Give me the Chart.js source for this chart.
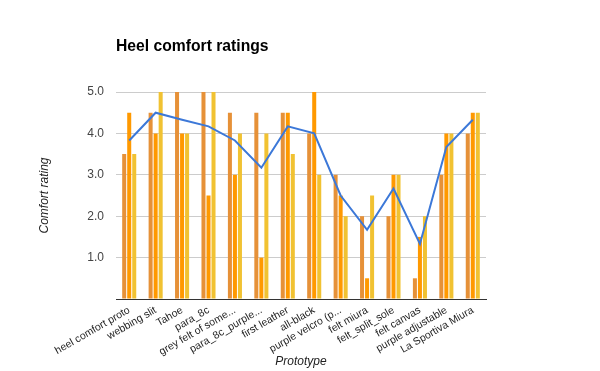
<!DOCTYPE html>
<html>
<head>
<meta charset="UTF-8">
<title>Heel comfort ratings</title>
<style type="text/css">
body {
	margin: 0;
	background: #fff;
}
</style>
</head>
<body>
	<canvas id="myChart" width="600" height="371"></canvas>

<script src="https://cdn.jsdelivr.net/npm/chart.js"></script>
<script>
	// 프로토타입 (x축)
	let prototypes = ['heel comfort proto', 'webbing slit', 'Tahoe', 'para_8c', 'grey felt of some...', 'para_8c_purple...',
		'first leather', 'all-black', 'purple velcro (p...', 'felt miura', 'felt_split_sole', 'felt canvas',
		'purple adjustable', 'La Sportiva Miura'];
	// 평가 값
	let rating1 = [3.5, 4.5, 5.0, 5.0, 4.5, 4.5, 4.5, 4.0, 3.0, 2.0, 2.0, 0.5, 3.0, 4.0];
	let rating2 = [4.5, 4.0, 4.0, 2.5, 3.0, 1.0, 4.5, 5.0, 2.5, 0.5, 3.0, 1.5, 4.0, 4.5];
	let rating3 = [3.5, 5.0, 4.0, 5.0, 4.0, 4.0, 3.5, 3.0, 2.0, 2.5, 3.0, 2.0, 4.0, 4.5];
	let average = [3.83, 4.5, 4.33, 4.17, 3.83, 3.17, 4.17, 4.0, 2.5, 1.67, 2.67, 1.33, 3.67, 4.33];
	let yTicks = [0, 1, 2, 3, 4, 5];

	let fontFamily = 'Arial, "Liberation Sans", sans-serif';

	// 제목은 차트 영역 왼쪽에 맞춰서 그림
	let titlePlugin = {
		id: 'leftTitle',
		afterDraw: function(chart) {
			let ctx = chart.ctx;
			ctx.save();
			ctx.font = 'bold 15.7px ' + fontFamily;
			ctx.fillStyle = '#000';
			ctx.textBaseline = 'alphabetic';
			ctx.fillText('Heel comfort ratings', chart.chartArea.left, 51);
			ctx.restore();
		}
	};

	let ctx = document.getElementById('myChart').getContext('2d');
	let chart = new Chart(ctx, {
		type: 'bar',
		data: {
			labels: prototypes,
			datasets: [{
				type: 'line',
				label: 'Average',
				data: average,
				borderColor: '#3c78d8',
				borderWidth: 2,
				pointRadius: 0,
				tension: 0,
				order: 0
			}, {
				label: 'Rating 1',
				data: rating1,
				backgroundColor: '#e69138',
				order: 1
			}, {
				label: 'Rating 2',
				data: rating2,
				backgroundColor: '#ff9900',
				order: 1
			}, {
				label: 'Rating 3',
				data: rating3,
				backgroundColor: '#f1c232',
				order: 1
			}]
		},
		options: {
			responsive: false,
			animation: false,
			categoryPercentage: 0.57,
			barPercentage: 0.8,
			layout: {
				padding: { top: 92, right: 114, bottom: 0, left: 37 }
			},
			plugins: {
				legend: { display: false },
				tooltip: { enabled: false }
			},
			scales: {
				x: {
					grid: { display: false },
					border: { color: '#333', width: 1 },
					ticks: {
						color: '#222',
						font: { family: fontFamily, size: 10.5 },
						minRotation: 30,
						maxRotation: 30,
						autoSkip: false,
						padding: -3
					},
					title: {
						display: true,
						text: 'Prototype',
						color: '#222',
						font: { family: fontFamily, size: 12, style: 'italic' },
						padding: { top: 0, bottom: 2 }
					},
					afterFit: function(scale) {
						scale.height = 72;
					}
				},
				y: {
					min: 0,
					max: 5,
					afterBuildTicks: function(scale) {
						scale.ticks = yTicks.map(function(v) { return { value: v }; });
					},
					grid: { color: '#cccccc', drawTicks: false },
					border: { display: false },
					ticks: {
						color: '#444',
						font: { family: fontFamily, size: 12 },
						padding: 12,
						callback: function(value) {
							return value === 0 ? '' : value.toFixed(1);
						}
					},
					title: {
						display: true,
						text: 'Comfort rating',
						color: '#222',
						font: { family: fontFamily, size: 12, style: 'italic' },
						padding: { top: 0, bottom: 0 }
					},
					afterFit: function(scale) {
						scale.width = 79;
					}
				}
			}
		},
		plugins: [titlePlugin]
	});
</script>
</body>
</html>
